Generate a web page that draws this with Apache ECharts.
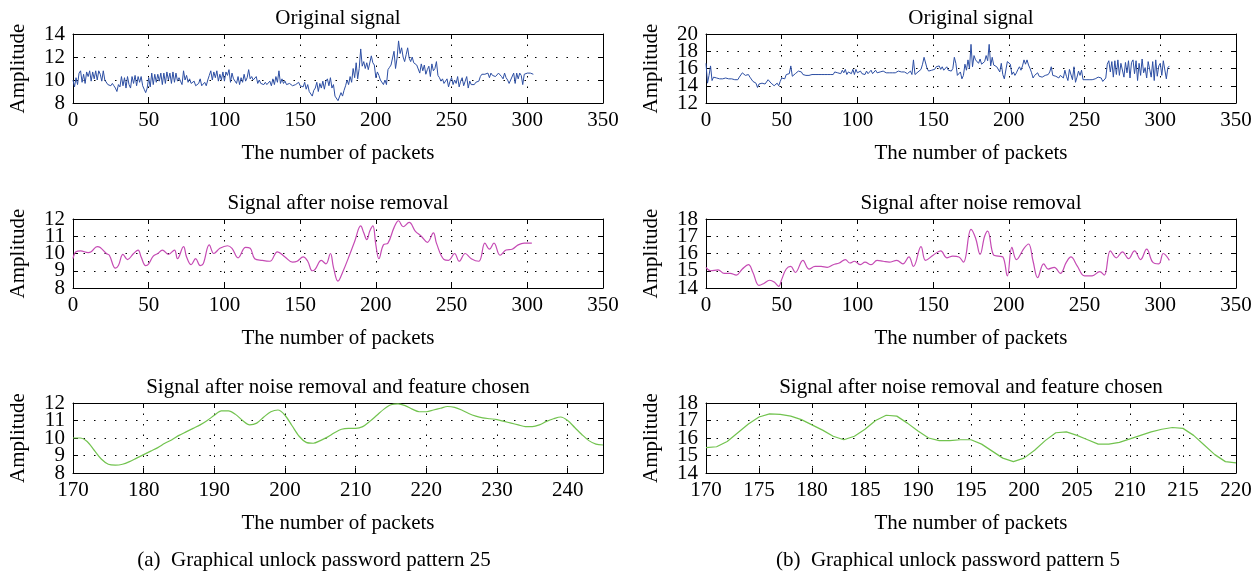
<!DOCTYPE html>
<html>
<head>
<meta charset="utf-8">
<script src="https://cdn.jsdelivr.net/npm/echarts@6/dist/echarts.min.js"></script>
<style>
  html, body { margin: 0; padding: 0; background: #fff; }
  #chart { width: 1260px; height: 578px; }
</style>
</head>
<body>
<div id="chart"></div>
<script>
// pattern 25 (left column), original signal, one value per packet from 0
const origA = [
  10.0, 9.4, 10.2, 9.6, 10.6, 10.8, 9.8, 10.5, 9.7, 10.7,
  10.3, 10.8, 9.9, 10.7, 10.1, 10.8, 10.0, 10.8, 10.5, 9.9,
  10.8, 10.0, 10.1, 9.6, 9.6, 9.5, 9.7, 9.5, 9.3, 9.0,
  9.6, 9.4, 10.3, 9.5, 10.2, 9.3, 10.3, 9.6, 9.3, 10.3,
  9.7, 10.4, 9.5, 10.3, 9.8, 10.3, 9.5, 9.2, 8.9, 9.3,
  10.2, 9.4, 10.6, 9.6, 10.5, 9.8, 10.5, 9.9, 10.6, 9.6,
  10.6, 9.7, 10.7, 10.0, 10.6, 9.7, 10.7, 9.8, 10.6, 9.9,
  10.2, 9.9, 9.6, 10.8, 10.0, 10.4, 9.8, 10.1, 9.7, 9.6,
  9.9, 9.5, 9.6, 9.7, 10.1, 9.5, 9.6, 9.8, 9.5, 10.0,
  10.4, 10.8, 10.0, 10.7, 10.2, 10.8, 9.9, 10.5, 10.0, 10.7,
  9.9, 10.7, 10.4, 10.9, 9.8, 10.6, 10.1, 10.0, 9.7, 10.3,
  9.6, 10.2, 9.8, 10.5, 9.9, 10.2, 10.9, 10.1, 10.3, 10.0,
  10.1, 10.3, 9.7, 10.0, 9.7, 9.8, 9.6, 9.8, 9.6, 9.7,
  9.9, 9.5, 10.1, 9.6, 10.3, 9.8, 10.8, 9.7, 10.1, 9.7,
  9.9, 9.6, 9.6, 9.7, 9.6, 9.5, 9.6, 9.6, 9.5, 9.8,
  9.5, 9.6, 9.4, 9.8, 9.2, 9.6, 9.0, 9.1, 8.6, 9.1,
  9.3, 9.8, 9.0, 9.7, 9.3, 9.9, 9.2, 9.9, 10.1, 9.5,
  10.2, 9.3, 9.6, 8.6, 8.7, 8.2, 8.1, 8.9, 8.6, 9.1,
  9.5, 10.0, 9.6, 10.3, 9.8, 11.0, 10.2, 11.5, 10.1, 11.0,
  12.7, 11.2, 11.6, 11.0, 11.5, 10.9, 11.0, 12.1, 11.5, 11.3,
  10.2, 10.7, 10.4, 10.0, 9.9, 9.6, 10.0, 9.6, 10.9, 11.1,
  11.3, 11.2, 12.5, 11.0, 11.9, 13.4, 12.3, 12.8, 12.0, 11.6,
  12.2, 12.8, 11.9, 11.6, 12.0, 11.5, 11.6, 11.3, 11.4, 10.6,
  11.4, 10.8, 11.3, 10.5, 10.9, 11.2, 10.3, 11.4, 10.8, 11.0,
  11.6, 10.4, 10.2, 9.9, 10.1, 9.7, 9.8, 10.1, 9.4, 9.9,
  10.2, 9.6, 10.0, 9.7, 10.3, 9.4, 9.9, 10.2, 9.5, 9.9,
  10.3, 9.3, 9.9, 9.6, 9.7, 9.6, 9.8, 9.7, 9.9, 10.3,
  10.5, 10.4, 10.5, 10.4, 10.6, 10.2, 10.6, 10.4, 10.5, 10.3,
  10.2, 10.6, 10.7, 10.3, 10.1, 10.6, 10.2, 10.0, 9.7, 10.0,
  10.0, 10.6, 9.7, 10.6, 10.1, 10.6, 10.4, 9.6, 10.5, 10.6,
  10.6, 10.7, 10.6, 10.6, 10.5
];

// pattern 25, after noise removal (packet, amplitude)
const denA_x = [0, 2, 5, 10, 12, 16, 18, 22, 24, 28, 30, 33, 36, 40, 43, 45, 48, 50, 53, 56, 59, 63, 67, 69, 73, 75, 78, 81, 84, 86, 90, 93, 97, 102, 105, 109, 114, 117, 120, 125, 130, 135, 140, 145, 148, 152, 155, 158, 160, 164, 167, 170, 172, 175, 178, 183, 186, 190, 192, 194, 196, 198, 200, 202, 205, 208, 212, 215, 218, 222, 226, 230, 234, 238, 240, 245, 248, 252, 255, 259, 263, 268, 272, 275, 278, 282, 286, 290, 294, 298, 303];
const denA_y = [9.7, 10.1, 10.15, 10.05, 10.1, 10.4, 10.35, 10.0, 9.9, 9.15, 9.3, 9.95, 9.65, 10.0, 10.2, 9.8, 9.3, 9.4, 9.85, 10.0, 10.2, 9.95, 10.2, 9.7, 10.4, 9.8, 9.35, 9.7, 9.3, 9.4, 10.5, 10.0, 10.3, 10.45, 10.3, 9.75, 10.35, 10.3, 9.7, 9.6, 9.55, 10.1, 9.8, 9.5, 9.55, 9.8, 9.55, 9.0, 9.1, 9.6, 9.4, 10.0, 9.2, 8.4, 8.9, 10.0, 10.7, 11.6, 11.2, 10.8, 11.3, 11.6, 10.5, 9.7, 10.5, 10.6, 11.5, 11.9, 11.55, 11.8, 11.3, 11.0, 10.65, 11.2, 10.6, 9.65, 9.6, 10.0, 9.55, 10.0, 9.7, 9.55, 10.6, 10.25, 10.6, 9.9, 10.2, 10.25, 10.5, 10.6, 10.6];

// pattern 25, feature chosen, packets 170..245
const featA = [
  10.0, 10.0, 9.8, 9.3, 8.8, 8.5, 8.45, 8.5, 8.65, 8.85,
  9.05, 9.25, 9.45, 9.7, 9.9, 10.15, 10.35, 10.55, 10.75, 11.0,
  11.3, 11.55, 11.55, 11.35, 11.0, 10.75, 10.85, 11.2, 11.5, 11.6,
  11.3, 10.7, 10.1, 9.75, 9.7, 9.85, 10.05, 10.3, 10.5, 10.55,
  10.55, 10.65, 10.95, 11.3, 11.65, 11.9, 11.95, 11.85, 11.65, 11.5,
  11.5, 11.6, 11.7, 11.8, 11.75, 11.6, 11.4, 11.25, 11.15, 11.1,
  11.05, 10.95, 10.85, 10.75, 10.65, 10.65, 10.75, 10.95, 11.1, 11.2,
  11.0, 10.6, 10.2, 9.85, 9.65, 9.6
];

// pattern 5 (right column), original signal, one value per packet from 0
const origB = [
  16.6, 14.3, 15.2, 16.3, 14.6, 15.0, 14.8, 14.9, 14.8, 14.8,
  14.9, 14.8, 14.8, 14.9, 14.7, 14.8, 14.9, 14.8, 15.0, 14.7,
  14.8, 14.7, 15.0, 15.2, 15.5, 15.3, 15.2, 15.4, 15.3, 15.0,
  14.9, 14.5, 14.6, 14.3, 13.8, 14.2, 14.0, 14.3, 14.1, 14.2,
  14.4, 14.7, 14.6, 14.3, 14.2, 14.0, 14.1, 14.3, 14.0, 14.5,
  14.9, 15.1, 14.8, 15.3, 15.2, 15.4, 16.3, 15.1, 15.3, 15.4,
  15.6, 15.7, 15.8, 15.6, 15.3, 15.4, 15.2, 15.3, 15.2, 15.3,
  15.3, 15.2, 15.3, 15.2, 15.3, 15.4, 15.3, 15.2, 15.3, 15.4,
  15.3, 15.2, 15.3, 15.5, 15.3, 15.6, 15.4, 15.5, 15.7, 15.4,
  15.8, 15.5, 15.9, 15.3, 15.6, 15.8, 15.4, 15.9, 15.3, 15.9,
  15.5, 15.3, 15.7, 15.4, 15.6, 15.3, 15.7, 15.4, 15.5, 15.8,
  15.4, 15.6, 15.8, 15.5, 15.7, 15.6, 15.5, 15.7, 15.6, 15.5,
  15.6, 15.5, 15.6, 15.5, 15.6, 15.5, 15.6, 15.7, 15.5, 15.6,
  15.5, 15.6, 15.7, 15.4, 15.5, 15.7, 15.3, 17.0, 15.3, 15.5,
  15.6, 15.8, 15.9, 16.5, 17.3, 17.1, 16.0, 15.7, 15.5, 15.8,
  16.0, 15.9, 16.2, 16.0, 16.3, 15.9, 16.2, 15.8, 16.0, 16.2,
  15.8, 15.6, 15.7, 16.0, 17.3, 16.6, 15.2, 15.0, 15.6, 14.8,
  15.2, 16.5, 15.8, 17.0, 16.0, 18.8, 16.2, 17.5, 17.0, 17.2,
  16.6, 17.1, 16.5, 16.6, 16.8, 17.5, 16.9, 18.8, 16.3, 17.3,
  16.4, 16.4, 16.2, 16.3, 15.6, 16.6, 15.3, 14.8, 15.0, 16.8,
  17.0, 16.5, 15.3, 15.6, 15.2, 15.5, 15.9, 16.2, 15.8, 16.3,
  17.0, 16.5, 17.0, 16.4, 16.0, 15.5, 14.9, 15.2, 15.0, 15.5,
  15.1, 15.3, 15.0, 14.8, 15.2, 15.0, 15.3, 15.6, 16.2, 15.2,
  15.0, 15.1, 15.0, 14.9, 15.2, 15.3, 14.9, 15.8, 15.1, 14.6,
  15.9, 16.0, 14.7, 16.2, 14.4, 15.0, 15.7, 15.2, 15.8, 14.7,
  14.8, 14.7, 14.8, 14.7, 14.8, 14.7, 14.9, 14.8, 14.9, 15.0,
  14.8, 14.9, 14.5, 14.4, 14.9, 16.5, 16.9, 15.6, 16.8, 15.0,
  16.9, 15.3, 17.0, 15.2, 16.6, 16.8, 15.0, 16.7, 15.5, 16.9,
  14.9, 16.7, 17.0, 15.4, 16.9, 14.6, 16.6, 15.2, 17.1, 15.5,
  16.1, 14.9, 16.8, 16.6, 15.0, 16.8, 14.6, 17.0, 15.1, 16.3,
  16.6, 15.2, 16.9, 16.7, 14.8, 16.1, 16.3
];

// pattern 5, after noise removal (packet, amplitude)
const denB_x = [0, 3, 8, 12, 16, 20, 24, 28, 31, 35, 38, 42, 45, 48, 50, 53, 56, 59, 64, 68, 72, 76, 80, 84, 88, 92, 95, 98, 102, 105, 109, 113, 117, 121, 126, 130, 134, 137, 142, 145, 150, 155, 159, 163, 167, 170, 175, 178, 181, 184, 186, 190, 193, 196, 199, 202, 205, 210, 213, 216, 219, 223, 226, 230, 234, 238, 241, 245, 250, 255, 260, 263, 267, 271, 275, 279, 283, 287, 291, 295, 299, 302, 306];
const denB_y = [15.2, 15.0, 15.05, 14.85, 14.85, 14.75, 15.1, 15.35, 14.9, 14.15, 14.25, 14.45, 14.35, 14.1, 14.5, 15.1, 15.25, 14.9, 15.6, 15.1, 15.25, 15.25, 15.2, 15.35, 15.45, 15.65, 15.45, 15.55, 15.35, 15.5, 15.35, 15.6, 15.55, 15.5, 15.6, 15.4, 15.8, 15.25, 16.4, 15.6, 15.9, 16.15, 15.75, 15.85, 15.8, 15.5, 17.4, 16.9, 15.95, 17.0, 17.3, 15.9, 15.85, 15.8, 14.7, 16.35, 15.65, 16.3, 16.55, 15.55, 14.6, 15.4, 15.1, 15.2, 14.85, 15.5, 15.8, 15.3, 14.7, 14.7, 14.95, 14.75, 16.15, 15.75, 16.1, 15.7, 16.15, 15.65, 16.25, 15.5, 15.4, 16.0, 15.6];

// pattern 5, feature chosen, packets 170..220
const featB = [
  15.45, 15.5, 15.8, 16.3, 16.8, 17.2, 17.38, 17.35, 17.25, 17.05,
  16.75, 16.45, 16.1, 15.9, 16.1, 16.5, 17.0, 17.3, 17.25, 16.85,
  16.4, 16.0, 15.85, 15.85, 15.9, 15.9, 15.65, 15.25, 14.85, 14.65,
  14.85, 15.3, 15.85, 16.3, 16.35, 16.15, 15.9, 15.65, 15.65, 15.75,
  15.95, 16.15, 16.35, 16.5, 16.6, 16.55, 16.15, 15.6, 15.05, 14.65,
  14.58
];

const titles = ['Original signal', 'Signal after noise removal', 'Signal after noise removal and feature chosen'];
const captions = ['(a)  Graphical unlock password pattern 25', '(b)  Graphical unlock password pattern 5'];

const FONT = '"Liberation Serif", "DejaVu Serif", serif';
const FS = 21;
const BLUE = '#2c4ea3';
const PINK = '#c54bb4';
const GREEN = '#72c34f';

const indexed = (arr, start) => arr.map((v, i) => [start + i, v]);
const paired = (xs, ys) => xs.map((x, i) => [x, ys[i]]);

const panels = [
  { left: 73, top: 34, h: 69, x: [0, 350, 50], y: [8, 14, 2], title: titles[0], data: indexed(origA, 0), color: BLUE, smooth: false, w: 1 },
  { left: 706, top: 34, h: 69, x: [0, 350, 50], y: [12, 20, 2], title: titles[0], data: indexed(origB, 0), color: BLUE, smooth: false, w: 1 },
  { left: 73, top: 219, h: 69, x: [0, 350, 50], y: [8, 12, 1], title: titles[1], data: paired(denA_x, denA_y), color: PINK, smooth: 0.4, w: 1.2 },
  { left: 706, top: 219, h: 69, x: [0, 350, 50], y: [14, 18, 1], title: titles[1], data: paired(denB_x, denB_y), color: PINK, smooth: 0.4, w: 1.2 },
  { left: 73, top: 403, h: 70, x: [170, 245, 10], y: [8, 12, 1], title: titles[2], data: indexed(featA, 170), color: GREEN, smooth: 0.3, w: 1.2 },
  { left: 706, top: 403, h: 70, x: [170, 220, 5], y: [14, 18, 1], title: titles[2], data: indexed(featB, 170), color: GREEN, smooth: false, w: 1.2 }
];
const W = 530;

const axisLine = { show: true, onZero: false, lineStyle: { color: '#000', width: 1 } };
const tick = { show: true, inside: true, length: 5, lineStyle: { color: '#000' } };
const grid = { show: true, lineStyle: { color: '#000', width: 1, type: [1.5, 9] } };
const lbl = { color: '#000', fontFamily: FONT, fontSize: FS };

const option = { animation: false, title: [], grid: [], xAxis: [], yAxis: [], series: [] };

panels.forEach((p, i) => {
  option.grid.push({ left: p.left, top: p.top, width: W, height: p.h });
  option.title.push({
    text: p.title, left: p.left + W / 2, top: p.top - 26, textAlign: 'center', padding: 0,
    textStyle: { fontFamily: FONT, fontSize: FS, fontWeight: 'normal', color: '#000' }
  });
  option.xAxis.push({
    gridIndex: i, type: 'value', min: p.x[0], max: p.x[1], interval: p.x[2],
    axisLine, axisTick: tick, splitLine: grid,
    axisLabel: Object.assign({ margin: 7, showMinLabel: true, showMaxLabel: p.x[1] % p.x[2] === 0 }, lbl),
    name: 'The number of packets', nameLocation: 'middle', nameGap: 40,
    nameTextStyle: { color: '#000', fontFamily: FONT, fontSize: FS }
  });
  option.xAxis.push({
    gridIndex: i, type: 'value', position: 'top', min: p.x[0], max: p.x[1], interval: p.x[2],
    axisLine, axisTick: tick, axisLabel: { show: false }, splitLine: { show: false }
  });
  // left axis: inner tick labels only
  option.yAxis.push({
    gridIndex: i, type: 'value', min: p.y[0], max: p.y[1], interval: p.y[2],
    axisLine, axisTick: tick, splitLine: grid,
    axisLabel: Object.assign({ margin: 8, showMinLabel: false, showMaxLabel: false }, lbl),
    name: 'Amplitude', nameLocation: 'middle', nameRotate: 90, nameGap: 44,
    nameTextStyle: { color: '#000', fontFamily: FONT, fontSize: FS }
  });
  option.yAxis.push({
    gridIndex: i, type: 'value', position: 'right', min: p.y[0], max: p.y[1], interval: p.y[2],
    axisLine, axisTick: tick, axisLabel: { show: false }, splitLine: { show: false }
  });
  // second left axis carrying just the end labels, so none get dropped as overlapping
  option.yAxis.push({
    gridIndex: i, type: 'value', position: 'left', min: p.y[0], max: p.y[1], interval: p.y[2],
    axisLine: { show: false }, axisTick: { show: false }, splitLine: { show: false },
    axisLabel: Object.assign({
      margin: 8, showMinLabel: true, showMaxLabel: true,
      formatter: v => (v === p.y[0] || v === p.y[1]) ? String(v) : ''
    }, lbl)
  });
  option.series.push({
    type: 'line', xAxisIndex: i * 2, yAxisIndex: i * 3, data: p.data,
    showSymbol: false, smooth: p.smooth, clip: true,
    lineStyle: { color: p.color, width: p.w }, itemStyle: { color: p.color }
  });
});

captions.forEach((c, i) => {
  option.title.push({
    text: c, left: i === 0 ? 314 : 948, top: 550, textAlign: 'center', padding: 0,
    textStyle: { fontFamily: FONT, fontSize: FS, fontWeight: 'normal', color: '#000' }
  });
});

const chart = echarts.init(document.getElementById('chart'));
chart.setOption(option);
</script>
</body>
</html>
